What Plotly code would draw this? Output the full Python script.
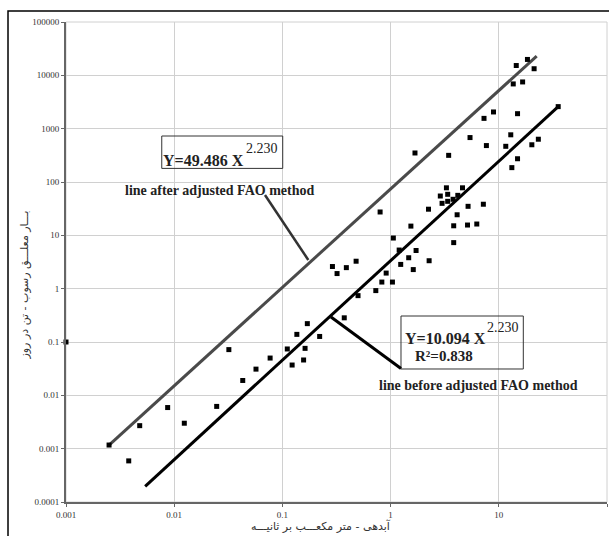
import plotly.graph_objects as go

# Observed data (discharge m3/s, suspended sediment ton/day)
x_obs = [0.0025, 0.0038, 0.0048, 0.0087, 0.0124, 0.0247, 0.043, 0.057, 0.032, 0.077,
         0.123, 0.157, 0.111, 0.162, 0.136, 0.221, 0.170, 0.373, 0.50, 0.73,
         0.83, 1.04, 0.91, 0.29, 0.32, 0.39, 0.48, 1.24, 1.62, 1.47,
         2.27, 1.20, 1.72, 1.06, 1.54, 3.83, 3.83, 5.14, 6.26, 4.12,
         2.24, 0.80, 5.2, 7.2, 2.99, 3.37, 3.78, 2.88, 3.37, 4.18,
         3.28, 4.62, 1.68, 3.44, 5.42, 7.68, 7.3, 8.93, 14.9, 12.9,
         11.6, 20.2, 23.2, 14.9, 13.2, 13.6, 16.6, 14.5, 18.4, 21.2,
         0.001, 35.4]
y_obs = [0.00117, 0.00059, 0.0027, 0.0059, 0.0030, 0.0062, 0.019, 0.031, 0.072, 0.050,
         0.037, 0.046, 0.074, 0.076, 0.139, 0.127, 0.221, 0.284, 0.74, 0.92,
         1.33, 1.33, 1.96, 2.6, 1.92, 2.48, 3.27, 2.85, 2.28, 3.8,
         3.34, 5.3, 5.2, 8.9, 14.9, 7.3, 15.1, 15.6, 16.3, 24.3,
         30.9, 27.4, 35, 38.3, 39.8, 43.4, 47.4, 54.6, 58.8, 56.2,
         77.8, 77.8, 350, 316, 681, 482, 1560, 2057, 1910, 767,
         467, 499, 634, 273, 186, 6900, 7520, 15270, 19860, 13300,
         0.1, 2590]

# Fitted lines (end points)
after_x = [0.0025, 22.4]
after_y = [0.00117, 22950]
before_x = [0.00539, 35.4]
before_y = [0.000197, 2590]

x_ticks = [0.001, 0.01, 0.1, 1, 10, 100]
x_tick_text = ["0.001", "0.01", "0.1", "1", "10", "100"]
y_ticks = [0.0001, 0.001, 0.01, 0.1, 1, 10, 100, 1000, 10000, 100000]
y_tick_text = ["0.0001", "0.001", "0.01", "0.1", "1", "10", "100", "1000", "10000", "100000"]

serif = "Liberation Serif, Times New Roman, serif"
fa_font = "DejaVu Sans, Noto Sans, sans-serif"

fig = go.Figure()
fig.add_trace(go.Scatter(x=after_x, y=after_y, mode="lines",
                         line=dict(color="#4a4a4a", width=3), hoverinfo="skip"))
fig.add_trace(go.Scatter(x=before_x, y=before_y, mode="lines",
                         line=dict(color="#000000", width=3), hoverinfo="skip"))
fig.add_trace(go.Scatter(x=x_obs, y=y_obs, mode="markers", cliponaxis=False,
                         marker=dict(symbol="square", size=5, color="#000000",
                                     line=dict(width=0))))

axis_common = dict(type="log", showgrid=True, gridcolor="#d0d0d0", gridwidth=1,
                   showline=True, linecolor="#666666", linewidth=2,
                   ticks="outside", ticklen=3, tickcolor="#666666",
                   tickfont=dict(family=serif, size=9, color="#333333"),
                   zeroline=False)

fig.update_xaxes(range=[-3, 2], tickvals=x_ticks, ticktext=x_tick_text, **axis_common)
fig.update_yaxes(range=[-4, 5], tickvals=y_ticks, ticktext=y_tick_text, **axis_common)

shapes = [
    # plot area border (light grey)
    dict(type="rect", xref="paper", yref="paper", x0=0, x1=1, y0=0, y1=1,
         line=dict(color="#d0d0d0", width=1), layer="below"),
    # outer frame
    dict(type="rect", xref="paper", yref="paper", x0=-0.1072, x1=1.2, y0=-0.3, y1=1.0229,
         line=dict(color="#000000", width=1.5)),
    # upper equation box
    dict(type="rect", xref="paper", yref="paper", x0=0.177, x1=0.4006, y0=0.695, y1=0.7625,
         line=dict(color="#333333", width=1), fillcolor="rgba(255,255,255,0)"),
    # lower equation box
    dict(type="rect", xref="paper", yref="paper", x0=0.6192, x1=0.8453, y0=0.2771, y1=0.3875,
         line=dict(color="#333333", width=1), fillcolor="rgba(255,255,255,0)"),
    # pointer to upper line
    dict(type="line", xref="paper", yref="paper", x0=0.3678, y0=0.6396, x1=0.4479, y1=0.5042,
         line=dict(color="#333333", width=2.5)),
    # pointer to lower line
    dict(type="line", xref="paper", yref="paper", x0=0.4898, y0=0.3854, x1=0.6192, y1=0.2781,
         line=dict(color="#000000", width=3)),
]

def ann(text, x, y, size, bold=True, family=serif, color="#222222", angle=0):
    t = f"<b>{text}</b>" if bold else text
    return dict(text=t, x=x, y=y, xref="paper", yref="paper", showarrow=False,
                xanchor="center", yanchor="middle", textangle=angle,
                font=dict(family=family, size=size, color=color))

annotations = [
    ann("Y=49.486 X", 0.2538, 0.7115, 16),
    ann("2.230", 0.3632, 0.7355, 14, bold=False),
    ann("line after adjusted FAO method", 0.2837, 0.65, 14),
    ann("Y=10.094 X", 0.7006, 0.3396, 16),
    ann("2.230", 0.8078, 0.3626, 14, bold=False),
    ann("R²=0.838", 0.6981, 0.3042, 15),
    ann("line before adjusted FAO method", 0.7616, 0.2417, 14),
    ann("بـــار معلـــق رسوب - تن در روز", -0.0758, 0.4531, 11, bold=False,
        family=fa_font, color="#333333", angle=-90),
    ann("آبدهی - متر مکعـــب بر ثانیـــه", 0.4713, -0.051, 11, bold=False,
        family=fa_font, color="#333333"),
]

fig.update_layout(width=609, height=536, margin=dict(l=66, r=2, t=22, b=34),
                  paper_bgcolor="white", plot_bgcolor="white", showlegend=False,
                  shapes=shapes, annotations=annotations)

fig.write_html("out.html")
